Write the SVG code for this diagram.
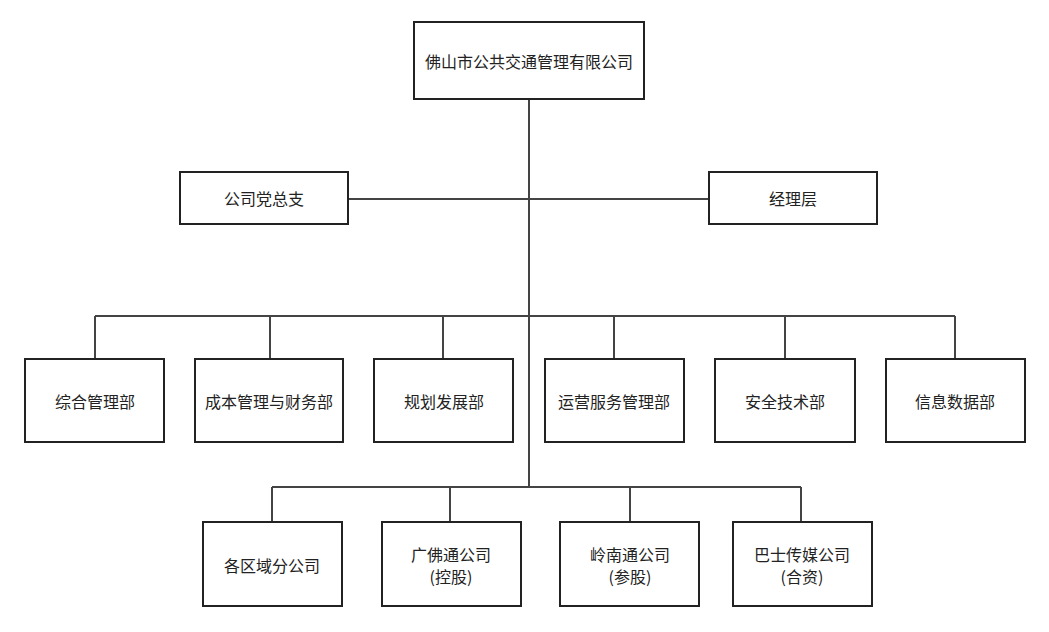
<svg xmlns="http://www.w3.org/2000/svg" width="1049" height="632" viewBox="0 0 1049 632">
<style>
.b{fill:#fff;stroke:#222;stroke-width:2}
.l{fill:none;stroke:#444;stroke-width:2}
text{font-family:"Noto Sans CJK SC","Noto Sans",sans-serif;font-size:16px;fill:#222;text-anchor:middle;dominant-baseline:central}
</style>
<rect width="1049" height="632" fill="#fff"/>
<g id="connectors">
<path class="l" d="M529 99V487M349 199H709M95 316H955M95 316V359M270 316V359M443 316V359M614 316V359M785 316V359M955 316V359M272 487H801M272 487V522M450 487V522M630 487V522M801 487V522"/>
</g>
<g id="n0"><rect class="b" x="414" y="22" width="230" height="77"/><text x="529" y="61">佛山市公共交通管理有限公司</text></g>
<g id="n1"><rect class="b" x="180" y="172" width="168" height="52"/><text x="264" y="198">公司党总支</text></g>
<g id="n2"><rect class="b" x="709" y="172" width="168" height="52"/><text x="793" y="198">经理层</text></g>
<g id="n3"><rect class="b" x="25" y="359" width="139" height="83"/><text x="95" y="401">综合管理部</text></g>
<g id="n4"><rect class="b" x="195" y="359" width="148" height="83"/><text x="269" y="401">成本管理与财务部</text></g>
<g id="n5"><rect class="b" x="374" y="359" width="139" height="83"/><text x="444" y="401">规划发展部</text></g>
<g id="n6"><rect class="b" x="545" y="359" width="139" height="83"/><text x="614" y="401">运营服务管理部</text></g>
<g id="n7"><rect class="b" x="715" y="359" width="140" height="83"/><text x="785" y="401">安全技术部</text></g>
<g id="n8"><rect class="b" x="886" y="359" width="139" height="83"/><text x="955" y="401">信息数据部</text></g>
<g id="n9"><rect class="b" x="203" y="522" width="139" height="84"/><text x="272" y="565">各区域分公司</text></g>
<g id="n10"><rect class="b" x="382" y="522" width="139" height="84"/><text x="451" y="554">广佛通公司</text><text x="451" y="576">(控股)</text></g>
<g id="n11"><rect class="b" x="560" y="522" width="139" height="84"/><text x="630" y="554">岭南通公司</text><text x="630" y="576">(参股)</text></g>
<g id="n12"><rect class="b" x="733" y="522" width="139" height="84"/><text x="802" y="554">巴士传媒公司</text><text x="802" y="576">(合资)</text></g>
</svg>
